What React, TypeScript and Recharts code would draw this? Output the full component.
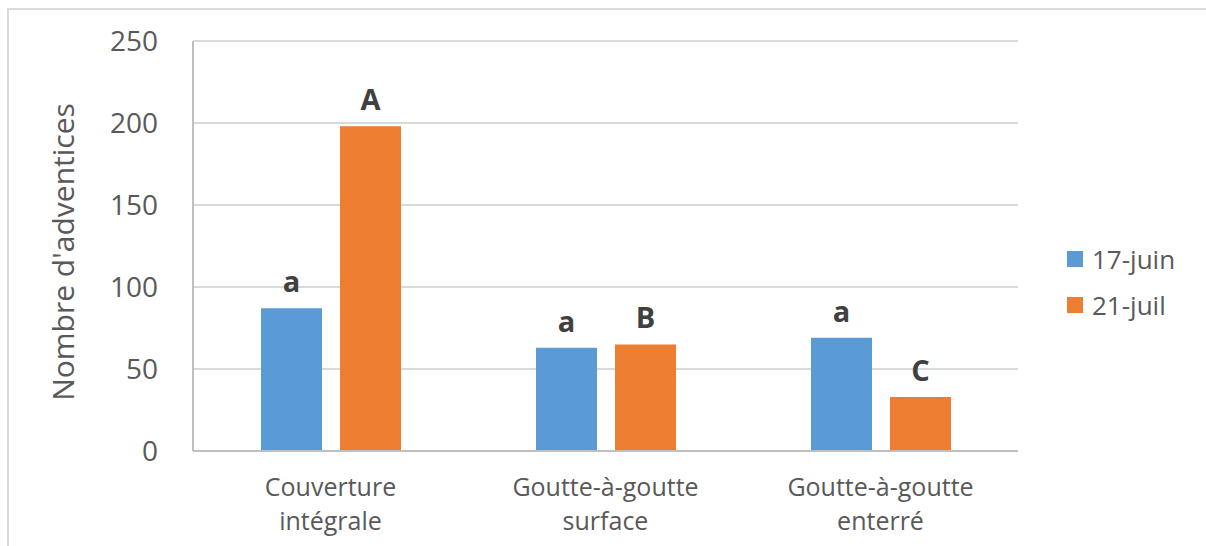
import { Bar, BarChart, CartesianGrid, LabelList, Legend, XAxis, YAxis } from 'recharts';

const categories = ['Couverture intégrale', 'Goutte-à-goutte surface', 'Goutte-à-goutte enterré'];
const categoryLines = [
  ['Couverture', 'intégrale'],
  ['Goutte-à-goutte', 'surface'],
  ['Goutte-à-goutte', 'enterré'],
];
const juin = [87, 63, 69];
const juil = [198, 65, 33];
const lettersJuin = ['a', 'a', 'a'];
const lettersJuil = ['A', 'B', 'C'];
const yTicks = [0, 50, 100, 150, 200, 250];

const data = categories.map((c, i) => ({
  name: c,
  '17-juin': juin[i],
  '21-juil': juil[i],
  lJuin: lettersJuin[i],
  lJuil: lettersJuil[i],
}));

const FONT = '"Open Sans", "Noto Sans", sans-serif';
const GREY = '#595959';

// two-line category labels, like the Excel original
const CategoryTick = (props: any) => {
  const { x, y, index } = props;
  const lines = categoryLines[index] || [];
  return (
    <g>
      {lines.map((l, i) => (
        <text key={i} x={x} y={y + 45 + i * 34} textAnchor="middle" fill={GREY} fontSize={25} fontFamily={FONT}>
          {l}
        </text>
      ))}
    </g>
  );
};

const renderLegend = (props: any) => {
  const { payload } = props;
  return (
    <div style={{ fontFamily: FONT }}>
      {(payload || []).map((p: any) => (
        <div key={p.value} style={{ display: 'flex', alignItems: 'center', height: 46 }}>
          <span style={{ width: 16, height: 16, background: p.color, display: 'inline-block', marginRight: 9 }} />
          <span style={{ fontSize: 26, color: GREY }}>{p.value}</span>
        </div>
      ))}
    </div>
  );
};

export default function App() {
  return (
    <div style={{ position: 'absolute', left: 0, top: 0, width: 1206, height: 546, background: '#fff', overflow: 'hidden' }}>
      <div
        style={{
          position: 'absolute',
          left: 7,
          top: 8,
          width: 1220,
          height: 560,
          borderTop: '2px solid #d9d9d9',
          borderLeft: '2px solid #d9d9d9',
        }}
      />
      <div style={{ position: 'absolute', left: 0, top: 0 }}>
        <BarChart
          width={1206}
          height={546}
          data={data}
          margin={{ top: 41, right: 188, left: 0, bottom: 0 }}
          barSize={61}
          barGap={18}
        >
          <CartesianGrid vertical={false} stroke="#d9d9d9" strokeWidth={2} />
          <XAxis
            dataKey="name"
            height={95}
            tickLine={false}
            tickSize={0}
            tickMargin={0}
            axisLine={{ stroke: '#bfbfbf', strokeWidth: 2 }}
            tick={<CategoryTick />}
            interval={0}
          />
          <YAxis
            width={193}
            domain={[0, 250]}
            ticks={yTicks}
            tickLine={false}
            tickSize={0}
            tickMargin={35}
            axisLine={{ stroke: '#bfbfbf', strokeWidth: 2 }}
            tick={{ fill: GREY, fontSize: 28, fontFamily: FONT }}
            label={{
              value: "Nombre d'adventices",
              angle: -90,
              position: 'center',
              dx: -33,
              dy: 6,
              fill: GREY,
              fontSize: 30,
              fontFamily: FONT,
            }}
          />
          <Legend
            layout="vertical"
            align="center"
            verticalAlign="middle"
            content={renderLegend}
            wrapperStyle={{ left: 1067, top: 236, width: 135 }}
          />
          <Bar dataKey="17-juin" fill="#5B9BD5" isAnimationActive={false}>
            <LabelList dataKey="lJuin" position="top" offset={16} fill="#404040" fontSize={29} fontWeight="bold" fontFamily={FONT} />
          </Bar>
          <Bar dataKey="21-juil" fill="#ED7D31" isAnimationActive={false}>
            <LabelList dataKey="lJuil" position="top" offset={16} fill="#404040" fontSize={29} fontWeight="bold" fontFamily={FONT} />
          </Bar>
        </BarChart>
      </div>
    </div>
  );
}
